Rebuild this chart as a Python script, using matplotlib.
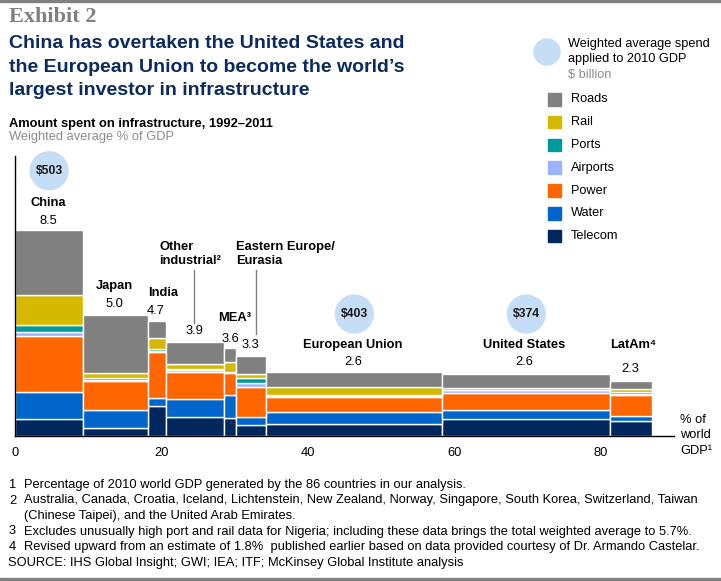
import matplotlib
matplotlib.use("Agg")
import matplotlib.pyplot as plt
import numpy as np

plt.rcParams["font.family"] = ["Liberation Sans", "DejaVu Sans"]

# share of 2010 world GDP (bar widths) and infrastructure spend by sector (% of GDP)
regions = ["China", "Japan", "India", "Other industrial", "MEA", "Eastern Europe/Eurasia",
           "European Union", "United States", "LatAm"]
gdp_share = [9.33, 8.81, 2.53, 7.86, 1.71, 4.10, 24.04, 22.95, 5.74]
telecom = [0.70, 0.31, 1.22, 0.80, 0.76, 0.46, 0.48, 0.70, 0.64]
water = [1.10, 0.77, 0.36, 0.74, 0.93, 0.34, 0.52, 0.38, 0.20]
power = [2.33, 1.18, 1.90, 1.12, 0.93, 1.24, 0.62, 0.70, 0.86]
airports = [0.17, 0.07, 0.04, 0.06, 0.02, 0.16, 0.05, 0.12, 0.05]
ports = [0.28, 0.07, 0.08, 0.06, 0.02, 0.19, 0.04, 0.02, 0.08]
rail = [1.24, 0.22, 0.43, 0.20, 0.38, 0.19, 0.33, 0.05, 0.10]
roads = [2.70, 2.38, 0.72, 0.92, 0.58, 0.74, 0.62, 0.60, 0.35]
totals = ["8.5", "5.0", "4.7", "3.9", "3.6", "3.3", "2.6", "2.6", "2.3"]
bubble_idx = [0, 6, 7]
bubble_vals = ["$503", "$403", "$374"]

sectors = ["Telecom", "Water", "Power", "Airports", "Ports", "Rail", "Roads"]
sector_vals = [telecom, water, power, airports, ports, rail, roads]
colors = {"Roads": "#808080", "Rail": "#d4b900", "Ports": "#00999c", "Airports": "#99b3ff",
          "Power": "#ff6600", "Water": "#0066cc", "Telecom": "#00285e"}
navy = "#0b2a5e"
bubble_col = "#c6ddf7"

W, H = 721, 581


def fx(x):
    return x / W


def fy(y):
    return 1 - y / H


fig = plt.figure(figsize=(W / 100, H / 100), dpi=100)

# frame lines at top and bottom
fig.patches.append(plt.Rectangle((0, fy(2)), 1, 2 / H, transform=fig.transFigure,
                                 color="#808080", zorder=0))
fig.patches.append(plt.Rectangle((0, 0), 1, 3 / H, transform=fig.transFigure,
                                 color="#808080", zorder=0))

fig.text(fx(9), fy(17), "Exhibit 2", family=["Liberation Serif", "DejaVu Serif"],
         fontsize=16, fontweight="bold", color="#808080", va="center")
for i, line in enumerate(["China has overtaken the United States and",
                          "the European Union to become the world\u2019s",
                          "largest investor in infrastructure"]):
    fig.text(fx(9), fy(44 + 23.5 * i), line, fontsize=14, fontweight="bold",
             color=navy, va="center")
fig.text(fx(9), fy(124), "Amount spent on infrastructure, 1992\u20132011", fontsize=9.3,
         fontweight="bold", color="black", va="center")
fig.text(fx(9), fy(137), "Weighted average % of GDP", fontsize=9.3, color="#8c8c8c",
         va="center")

# main marimekko axes
ax = fig.add_axes([fx(15), fy(436), (673.8 - 15) / W, (436 - 156) / H])
lefts = np.concatenate([[0], np.cumsum(gdp_share)[:-1]])
bottom = np.zeros(len(regions))
for name, vals in zip(sectors, sector_vals):
    ax.bar(lefts, vals, width=gdp_share, bottom=bottom, align="edge",
           color=colors[name], edgecolor="white", linewidth=1.0)
    bottom += np.array(vals)

ax.set_xlim(0, 90)
ax.set_ylim(0, 11.57)
ax.set_xticks([0, 20, 40, 60, 80])
ax.set_yticks([])
ax.tick_params(axis="x", length=0, labelsize=9.3, pad=8)
for s in ["top", "right"]:
    ax.spines[s].set_visible(False)
for s in ["left", "bottom"]:
    ax.spines[s].set_color("black")
    ax.spines[s].set_linewidth(1.0)

mids = lefts + np.array(gdp_share) / 2

# bubbles with weighted spend
for i, val in zip(bubble_idx, bubble_vals):
    y = 10.96 if i == 0 else 5.04
    ax.scatter([mids[i]], [y], s=800, color=bubble_col, edgecolor="none", zorder=3,
               clip_on=False)
    ax.text(mids[i], y, val, ha="center", va="center", fontsize=8.8,
            fontweight="bold", color="#1a1a1a", zorder=4)

lab_kw = dict(fontsize=9.3, fontweight="bold", color="black", va="center")
val_kw = dict(fontsize=9.3, color="black", va="center", ha="center")


def dx(px):
    return (px - 15) / 7.32


def dy(py):
    return (436 - py) / 24.2


ax.text(dx(48), dy(202.7), "China", ha="center", **lab_kw)
ax.text(dx(48), dy(220.7), totals[0], **val_kw)
ax.text(dx(114), dy(285.7), "Japan", ha="center", **lab_kw)
ax.text(dx(114), dy(304), totals[1], **val_kw)
ax.text(dx(163), dy(292.7), "India", ha="center", **lab_kw)
ax.text(dx(156), dy(311), totals[2], **val_kw)
ax.text(dx(159), dy(246.7), "Other", ha="left", **lab_kw)
ax.text(dx(159), dy(261), "industrial\u00b2", ha="left", **lab_kw)
ax.plot([dx(194.3)] * 2, [dy(270), dy(323)], color="#808080", lw=1)
ax.text(dx(194.3), dy(331), totals[3], **val_kw)
ax.text(dx(218), dy(318), "MEA\u00b3", ha="left", **lab_kw)
ax.text(dx(230), dy(339), totals[4], **val_kw)
ax.text(dx(235.7), dy(246.7), "Eastern Europe/", ha="left", **lab_kw)
ax.text(dx(235.7), dy(261), "Eurasia", ha="left", **lab_kw)
ax.plot([dx(255.7)] * 2, [dy(270), dy(334)], color="#808080", lw=1)
ax.text(dx(250.5), dy(345), totals[5], **val_kw)
ax.text(dx(353), dy(345), "European Union", ha="center", **lab_kw)
ax.text(dx(353), dy(361.7), totals[6], **val_kw)
ax.text(dx(524), dy(345), "United States", ha="center", **lab_kw)
ax.text(dx(524), dy(361.7), totals[7], **val_kw)
ax.text(dx(633), dy(345), "LatAm\u2074", ha="center", **lab_kw)
ax.text(dx(630), dy(369), totals[8], **val_kw)

for i, line in enumerate(["% of", "world", "GDP\u00b9"]):
    fig.text(fx(680), fy(420 + 15.5 * i), line, fontsize=9.3, color="black", va="center")

# legend
fig.patches.append(plt.Circle((5.47, (H - 52) / 100), 0.13, transform=fig.dpi_scale_trans,
                              color=bubble_col))
fig.text(fx(568), fy(44), "Weighted average spend", fontsize=9.2, va="center")
fig.text(fx(568), fy(59), "applied to 2010 GDP", fontsize=9.2, va="center")
fig.text(fx(568), fy(75), "$ billion", fontsize=9.2, color="#8c8c8c", va="center")
for i, name in enumerate(["Roads", "Rail", "Ports", "Airports", "Power", "Water", "Telecom"]):
    yc = 99.3 + 22.8 * i
    fig.patches.append(plt.Rectangle((fx(548.3), fy(yc + 6.3)), 12.7 / W, 12.7 / H,
                                     transform=fig.transFigure, color=colors[name]))
    fig.text(fx(570.7), fy(yc), name, fontsize=9.2, va="center")

# footnotes
foot = ["Percentage of 2010 world GDP generated by the 86 countries in our analysis.",
        "Australia, Canada, Croatia, Iceland, Lichtenstein, New Zealand, Norway, Singapore, "
        "South Korea, Switzerland, Taiwan",
        "(Chinese Taipei), and the United Arab Emirates.",
        "Excludes unusually high port and rail data for Nigeria; including these data brings "
        "the total weighted average to 5.7%.",
        "Revised upward from an estimate of 1.8%  published earlier based on data provided "
        "courtesy of Dr. Armando Castelar."]
nums = ["1", "2", "", "3", "4"]
fnt = dict(fontsize=9.3, va="center", color="black")
for i, (n, t) in enumerate(zip(nums, foot)):
    yc = 485 + 15.5 * i
    if n:
        fig.text(fx(9), fy(yc), n, **fnt)
    fig.text(fx(24), fy(yc), t, **fnt)
fig.text(fx(8), fy(562.7), "SOURCE: IHS Global Insight; GWI; IEA; ITF; McKinsey Global "
         "Institute analysis", **fnt)

fig.savefig("out.png", dpi=100)
